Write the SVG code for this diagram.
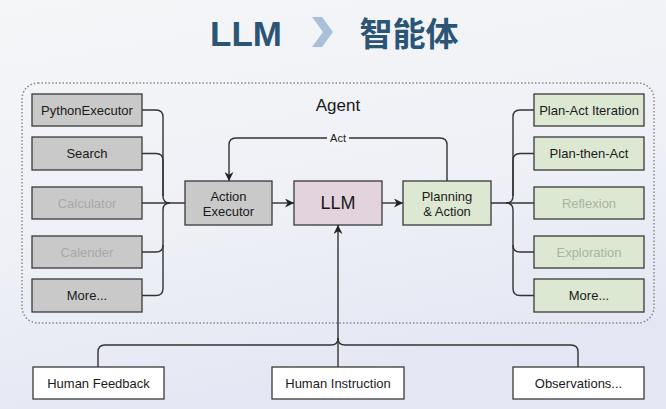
<svg xmlns="http://www.w3.org/2000/svg" width="666" height="409" viewBox="0 0 666 409">
<defs>
<linearGradient id="bg" x1="0" y1="0" x2="0.3" y2="1">
<stop offset="0" stop-color="#f5f6f8"/>
<stop offset="0.6" stop-color="#eef0f6"/>
<stop offset="1" stop-color="#e4e7f3"/>
</linearGradient>
<marker id="arr" viewBox="0 0 10 10" refX="10" refY="5" markerWidth="9" markerHeight="9" markerUnits="userSpaceOnUse" orient="auto">
<path d="M0,0 L10,5 L0,10 L3,5 z" fill="#222"/>
</marker>
<style>
text{font-family:"Liberation Sans",Arial,sans-serif;text-anchor:middle;dominant-baseline:central;fill:#1a1a1a}
.tool{fill:#c9c9c9;stroke:#3a3a3a;stroke-width:1.3}
.plan{fill:#dce8d2;stroke:#3a3a3a;stroke-width:1.3}
.llm{fill:#e2d3dd;stroke:#3a3a3a;stroke-width:1.3}
.inp{fill:#ffffff;stroke:#3a3a3a;stroke-width:1.3}
.t{font-size:13px}
.dim{fill:#a8a8a8}
.dimg{fill:#a9b3a2}
.c{fill:none;stroke:#333;stroke-width:1.4}
</style>
</defs>
<rect width="666" height="409" fill="url(#bg)"/>
<g id="title">
<text x="246" y="33" font-size="35" font-weight="bold" style="fill:#2b5574">LLM</text>
<polygon points="312,17 322,17 333,32 322,47 312,47 323,32" fill="#a7c1da"/>
<text x="409" y="32" font-size="33" font-weight="bold" style="fill:#2b5574;font-family:'Noto Sans CJK SC',sans-serif">智能体</text>
</g>
<rect id="agent-frame" x="22" y="83" width="632" height="240" rx="16" fill="none" stroke="#8a8a8a" stroke-width="1.5" stroke-dasharray="1.5 2"/>
<text x="338" y="105" font-size="17">Agent</text>
<g id="connectors">
<path class="c" d="M142,110 H156 Q163,110 163,117 V196 Q163,203 170,203"/>
<path class="c" d="M142,153.5 H156 Q163,153.5 163,160.5 V196"/>
<path class="c" d="M142,203 H185"/>
<path class="c" d="M142,252 H156 Q163,252 163,245 V210 Q163,203 170,203"/>
<path class="c" d="M142,295.5 H156 Q163,295.5 163,288.5 V245"/>
<path class="c" d="M272,203 H294" marker-end="url(#arr)"/>
<path class="c" d="M382,203 H403" marker-end="url(#arr)"/>
<path class="c" d="M447,181 V145 Q447,138 440,138 H236 Q229,138 229,145 V181" marker-end="url(#arr)"/>
<path class="c" d="M491,203 H534"/>
<path class="c" d="M534,110 H520 Q513,110 513,117 V196 Q513,203 506,203"/>
<path class="c" d="M534,153.5 H520 Q513,153.5 513,160.5 V196"/>
<path class="c" d="M534,252 H520 Q513,252 513,245 V210 Q513,203 506,203"/>
<path class="c" d="M534,295.5 H520 Q513,295.5 513,288.5 V245"/>
<path class="c" d="M338,367 V225" marker-end="url(#arr)"/>
<path class="c" d="M98,367 V352 Q98,345 105,345 H331 Q338,345 338,338"/>
<path class="c" d="M578,367 V352 Q578,345 571,345 H345 Q338,345 338,338"/>
<rect x="327" y="131" width="22" height="14" fill="#f3f4f7"/>
<text x="338" y="138" font-size="11">Act</text>
</g>
<g id="python-executor"><rect class="tool" x="32" y="94" width="110" height="32"/><text class="t" x="87" y="110">PythonExecutor</text></g>
<g id="search"><rect class="tool" x="32" y="137" width="110" height="33"/><text class="t" x="87" y="153.5">Search</text></g>
<g id="calculator"><rect class="tool" x="32" y="187" width="110" height="32"/><text class="t dim" x="87" y="203">Calculator</text></g>
<g id="calender"><rect class="tool" x="32" y="236" width="110" height="32"/><text class="t dim" x="87" y="252">Calender</text></g>
<g id="more-tools"><rect class="tool" x="32" y="279" width="110" height="33"/><text class="t" x="87" y="295.5">More...</text></g>
<g id="action-executor"><rect class="tool" x="185" y="181" width="87" height="44"/><text class="t" x="228.5" y="196">Action</text><text class="t" x="228.5" y="211">Executor</text></g>
<g id="llm"><rect class="llm" x="294" y="181" width="88" height="44"/><text x="338" y="203" font-size="18">LLM</text></g>
<g id="planning"><rect class="plan" x="403" y="181" width="88" height="44"/><text class="t" x="447" y="196">Planning</text><text class="t" x="447" y="211">&amp; Action</text></g>
<g id="plan-act-iteration"><rect class="plan" x="534" y="94" width="110" height="32"/><text class="t" x="589" y="110">Plan-Act Iteration</text></g>
<g id="plan-then-act"><rect class="plan" x="534" y="137" width="110" height="33"/><text class="t" x="589" y="153.5">Plan-then-Act</text></g>
<g id="reflexion"><rect class="plan" x="534" y="187" width="110" height="32"/><text class="t dimg" x="589" y="203">Reflexion</text></g>
<g id="exploration"><rect class="plan" x="534" y="236" width="110" height="32"/><text class="t dimg" x="589" y="252">Exploration</text></g>
<g id="more-plans"><rect class="plan" x="534" y="279" width="110" height="33"/><text class="t" x="589" y="295.5">More...</text></g>
<g id="human-feedback"><rect class="inp" x="33" y="367" width="131" height="32"/><text class="t" x="98.5" y="383">Human Feedback</text></g>
<g id="human-instruction"><rect class="inp" x="272" y="367" width="132" height="32"/><text class="t" x="338" y="383">Human Instruction</text></g>
<g id="observations"><rect class="inp" x="513" y="367" width="131" height="32"/><text class="t" x="578.5" y="383">Observations...</text></g>
</svg>
